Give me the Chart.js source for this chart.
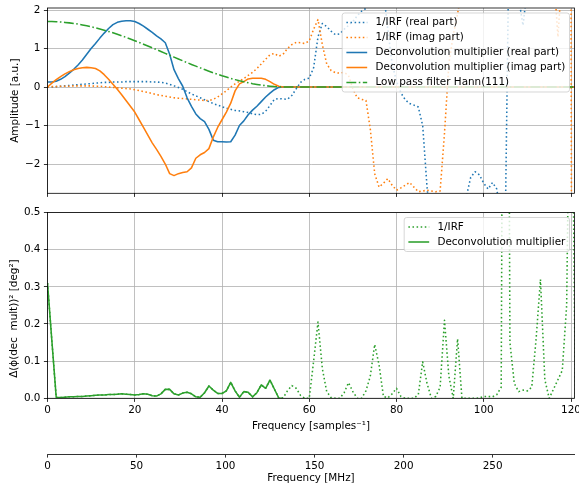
<!DOCTYPE html>
<html><head><meta charset="utf-8">
<script src="https://cdn.jsdelivr.net/npm/chart.js@4/dist/chart.umd.min.js"></script>
<style>
html,body{margin:0;padding:0;background:#fff;}
#wrap{position:relative;width:579px;height:485px;overflow:hidden;background:#fff;}
canvas{position:absolute;left:0;}
#c1{top:0;} #c2{top:200px;}
</style></head><body>
<div id="wrap"><canvas id="c1" width="579" height="200"></canvas><canvas id="c2" width="579" height="285"></canvas></div>
<script>
// ---- categories (frequency samples) ----
const freq = [0,1,2,3,4,5,6,7,8,9,10,11,12,13,14,15,16,17,18,19,20,21,22,23,24,25,26,27,28,29,
30,31,32,33,34,35,36,37,38,39,40,41,42,43,44,45,46,47,48,49,50,51,52,53,54,55,56,57,58,59,
60,61,62,63,64,65,66,67,68,69,70,71,72,73,74,75,76,77,78,79,80,81,82,83,84,85,86,87,88,89,
90,91,92,93,94,95,96,97,98,99,100,101,102,103,104,105,106,107,108,109,110,111,112,113,114,115,116,117,118,119,120,121];

// ---- top panel series ----
const irfReal = [0,0,0.01,0.02,0.03,0.04,0.05,0.06,0.07,0.08,
0.09,0.1,0.11,0.12,0.12,0.13,0.13,0.13,0.14,0.14,
0.14,0.14,0.14,0.14,0.13,0.13,0.12,0.1,0.07,0.03,
-0.01,-0.06,-0.12,-0.18,-0.23,-0.28,-0.33,-0.38,-0.43,-0.47,
-0.51,-0.55,-0.58,-0.61,-0.62,-0.64,-0.66,-0.7,-0.72,-0.71,
-0.63,-0.48,-0.32,-0.3,-0.31,-0.32,-0.22,-0.05,0.12,0.2,
0.23,0.5,1.3,1.65,1.57,1.45,1.36,1.38,1.5,1.6,
1.7,1.85,1.97,2.04,2.4,2.8,2.9,2.5,1.5,0.6,
0.15,-0.15,-0.33,-0.43,-0.47,-0.52,-1.0,-2.6,-3.8,-4.2,
-4.4,-4.3,-4.0,-3.8,-3.5,-3.3,-2.85,-2.35,-2.2,-2.28,
-2.5,-2.65,-2.48,-2.65,-3.5,-3.0,5.5,4.0,2.3,1.6,
2.6,4.0,4.5,4.8,5.0,5.2,5.0,4.8,4.6,4.5,
4.4,4.3];
const irfImag = [0,0.01,0.01,0.02,0.02,0.02,0.03,0.03,0.03,0.03,
0.03,0.02,0.02,0.01,0,-0.01,-0.02,-0.03,-0.04,-0.05,
-0.07,-0.09,-0.12,-0.14,-0.17,-0.2,-0.22,-0.24,-0.26,-0.28,
-0.29,-0.3,-0.31,-0.32,-0.33,-0.34,-0.35,-0.35,-0.32,-0.26,
-0.18,-0.1,0,0.08,0.15,0.22,0.3,0.38,0.48,0.6,
0.72,0.84,0.87,0.8,0.85,1.0,1.1,1.16,1.15,1.13,
1.2,1.5,1.75,1.1,0.6,0.43,0.37,0.36,0.38,0.3,
-0.05,-0.28,-0.32,-0.35,-1.1,-2.25,-2.6,-2.5,-2.38,-2.55,
-2.68,-2.62,-2.55,-2.48,-2.6,-2.72,-2.7,-2.68,-2.7,-2.72,
-2.7,-1.2,0.6,1.35,1.9,2.6,3.5,4.2,4.6,4.8,
5.0,5.0,4.9,4.7,4.5,4.3,4.0,3.8,3.7,3.6,
3.6,3.7,3.8,3.8,3.6,3.3,3.0,1.3,3.0,4.0,
3.0,-60];
const decReal = [0.13,0.13,0.15,0.2,0.27,0.36,0.46,0.57,0.7,0.85,
1.0,1.13,1.27,1.4,1.52,1.62,1.68,1.71,1.72,1.72,
1.7,1.65,1.58,1.5,1.42,1.33,1.25,1.15,0.85,0.45,
0.22,0.02,-0.28,-0.5,-0.7,-0.82,-0.9,-1.1,-1.38,-1.42,
-1.42,-1.43,-1.42,-1.25,-1.0,-0.88,-0.72,-0.6,-0.5,-0.38,
-0.26,-0.16,-0.07,-0.01,0,0,0,0,0,0,
0,0,0,0,0,0,0,0,0,0,
0,0,0,0,0,0,0,0,0,0,
0,0,0,0,0,0,0,0,0,0,
0,0,0,0,0,0,0,0,0,0,
0,0,0,0,0,0,0,0,0,0,
0,0,0,0,0,0,0,0,0,0,
0,0];
const decImag = [0,0.1,0.19,0.27,0.34,0.4,0.45,0.48,0.5,0.51,
0.5,0.48,0.42,0.32,0.2,0.07,-0.06,-0.2,-0.35,-0.5,
-0.65,-0.85,-1.05,-1.25,-1.45,-1.62,-1.8,-2.0,-2.25,-2.3,
-2.25,-2.22,-2.2,-2.1,-1.85,-1.76,-1.7,-1.6,-1.3,-1.05,
-0.85,-0.65,-0.42,-0.1,0.08,0.14,0.21,0.23,0.23,0.23,
0.2,0.14,0.07,0.02,0,0,0,0,0,0,
0,0,0,0,0,0,0,0,0,0,
0,0,0,0,0,0,0,0,0,0,
0,0,0,0,0,0,0,0,0,0,
0,0,0,0,0,0,0,0,0,0,
0,0,0,0,0,0,0,0,0,0,
0,0,0,0,0,0,0,0,0,0,
0,0];
const hann = [1.700,1.699,1.694,1.688,1.678,1.666,1.651,1.633,1.613,1.590,
1.565,1.538,1.508,1.476,1.442,1.407,1.369,1.330,1.289,1.247,
1.203,1.158,1.113,1.066,1.019,0.971,0.923,0.874,0.826,0.777,
0.729,0.681,0.634,0.587,0.542,0.497,0.453,0.411,0.370,0.331,
0.293,0.258,0.224,0.192,0.162,0.135,0.110,0.087,0.067,0.049,
0.034,0.022,0.012,0.006,0.001,0,0,0,0,0,
0,0,0,0,0,0,0,0,0,0,
0,0,0,0,0,0,0,0,0,0,
0,0,0,0,0,0,0,0,0,0,
0,0,0,0,0,0,0,0,0,0,
0,0,0,0,0,0,0,0,0,0,
0,0,0,0,0,0,0,0,0,0,
0,0];

// ---- bottom panel series ----
const phaseIRF = [0.31,0.155,0.002,0.002,0.003,0.004,0.004,0.005,0.005,0.006,
0.007,0.008,0.009,0.009,0.01,0.01,0.011,0.012,0.011,0.01,
0.009,0.01,0.012,0.011,0.007,0.006,0.012,0.024,0.024,0.012,
0.009,0.014,0.016,0.012,0.004,0.003,0.015,0.033,0.022,0.013,
0.013,0.02,0.043,0.02,0.003,0.018,0.016,0.004,0.015,0.036,
0.027,0.049,0.025,0.001,0.001,0.02,0.034,0.027,0.008,0,
0,0.1,0.205,0.08,0.018,0.002,0,0,0.015,0.042,
0.018,0,0,0.02,0.06,0.145,0.09,0.005,0.001,0.012,
0.027,0.005,0,0,0,0.01,0.098,0.04,0,0.005,
0.03,0.21,0.06,0,0.16,0,0,0,0,0.001,
0.005,0.005,0.004,0.01,0.03,3.0,0.15,0.04,0.018,0.022,
0.02,0.03,0.16,0.32,0.05,0,0.025,0.05,0.075,0.25,
1.2,0];
const phaseDec = [0.31,0.155,0.002,0.002,0.003,0.004,0.004,0.005,0.005,0.006,
0.007,0.008,0.009,0.009,0.01,0.01,0.011,0.012,0.011,0.01,
0.009,0.01,0.012,0.011,0.007,0.006,0.012,0.024,0.024,0.012,
0.009,0.014,0.016,0.012,0.004,0.003,0.015,0.033,0.022,0.013,
0.013,0.02,0.043,0.02,0.003,0.018,0.016,0.004,0.015,0.036,
0.027,0.049,0.025,0.001,0];

// ---- tick labels ----
const xTicks = [0,20,40,60,80,100,120];
const yTicksTop = [-2,-1,0,1,2];
const yTicksBottom = [0,0.1,0.2,0.3,0.4,0.5];
const mhzTicks = [0,50,100,150,200,250];

const C0 = '#1f77b4', C1 = '#ff7f0e', C2 = '#2ca02c';
const DOT = [1.55, 2.55];
const DASHDOT = [9.9, 2.5, 1.55, 2.5];
const FS = 10.4;

Chart.defaults.font.family = '"DejaVu Sans", sans-serif';
Chart.defaults.font.size = FS;
Chart.defaults.color = '#000';

function series(vals){ return freq.map((f,i)=>({x:f, y: i < vals.length ? vals[i] : null})); }
function lineDs(label, vals, color, dash, order){
  return {label, data: series(vals), borderColor: color, backgroundColor: color, borderWidth: 1.55,
    borderDash: dash, borderCapStyle: 'butt', borderJoinStyle: 'round', pointRadius: 0, pointHoverRadius: 0,
    fill: false, tension: 0, clip: 0, order, spanGaps: false, xAxisID: 'x', yAxisID: 'y'};
}
function fmtNum(v){ return v < 0 ? '\u2212' + Math.abs(v) : String(v); }
function setTicks(arr){ return s => { s.ticks = arr.map(v => ({value: v})); }; }
const gridOpts = {color: '#b0b0b0', lineWidth: 0.8, tickColor: '#000', tickWidth: 0.8, tickLength: 3.6, drawTicks: true};

function roundRect(ctx, x, y, w, h, r){
  ctx.beginPath();
  ctx.moveTo(x + r, y); ctx.lineTo(x + w - r, y); ctx.arcTo(x + w, y, x + w, y + r, r);
  ctx.lineTo(x + w, y + h - r); ctx.arcTo(x + w, y + h, x + w - r, y + h, r);
  ctx.lineTo(x + r, y + h); ctx.arcTo(x, y + h, x, y + h - r, r);
  ctx.lineTo(x, y + r); ctx.arcTo(x, y, x + r, y, r); ctx.closePath();
}
function boxLegendPlugin(id){
  return {id, afterDraw(chart){
    const ctx = chart.ctx, a = chart.chartArea;
    ctx.save();
    ctx.setLineDash([]);
    ctx.strokeStyle = '#000'; ctx.lineWidth = 0.8;
    ctx.strokeRect(a.left, a.top, a.right - a.left, a.bottom - a.top);
    const items = chart.data.datasets.map(d => ({label: d.label, color: d.borderColor, dash: d.borderDash || []}));
    ctx.font = FS + 'px "DejaVu Sans"';
    const textW = Math.max(...items.map(it => ctx.measureText(it.label).width));
    const pad = 4.2, hl = 20.8, gap = 8.3, rowH = 10.6, sp = 4.4;
    const w = pad + hl + gap + textW + pad;
    const h = pad * 2 + items.length * rowH + (items.length - 1) * sp;
    const right = a.right - 5, left = right - w, top = a.top + 5;
    roundRect(ctx, left, top, w, h, 2.5);
    ctx.fillStyle = 'rgba(255,255,255,0.8)'; ctx.fill();
    ctx.strokeStyle = 'rgba(204,204,204,0.8)'; ctx.lineWidth = 1; ctx.stroke();
    items.forEach((it, i) => {
      const cy = top + pad + rowH / 2 + i * (rowH + sp);
      ctx.beginPath(); ctx.setLineDash(it.dash); ctx.lineCap = 'butt';
      ctx.strokeStyle = it.color; ctx.lineWidth = 1.55;
      ctx.moveTo(left + pad, cy); ctx.lineTo(left + pad + hl, cy); ctx.stroke();
      ctx.setLineDash([]);
      ctx.fillStyle = '#000'; ctx.textBaseline = 'middle'; ctx.textAlign = 'left';
      ctx.fillText(it.label, left + pad + hl + gap, cy);
    });
    ctx.restore();
  }};
}

new Chart(document.getElementById('c1'), {
  type: 'line',
  data: {datasets: [
    lineDs('1/IRF (real part)', irfReal, C0, DOT, 5),
    lineDs('1/IRF (imag part)', irfImag, C1, DOT, 4),
    lineDs('Deconvolution multiplier (real part)', decReal, C0, [], 3),
    lineDs('Deconvolution multiplier (imag part)', decImag, C1, [], 2),
    lineDs('Low pass filter Hann(111)', hann, C2, DASHDOT, 1)
  ]},
  options: {
    responsive: false, animation: false, events: [], devicePixelRatio: 1,
    layout: {padding: {left: 0, right: 4.5, top: 8, bottom: 0}},
    plugins: {legend: {display: false}, tooltip: {enabled: false}},
    scales: {
      x: {type: 'linear', position: 'bottom', min: 0, max: 120.8, afterBuildTicks: setTicks(xTicks),
        ticks: {display: false}, grid: gridOpts, border: {display: false},
        afterFit: s => { s.height = 6.7; s.paddingLeft = 0; s.paddingRight = 0; }},
      y: {type: 'linear', min: -2.76, max: 2.052, afterBuildTicks: setTicks(yTicksTop),
        ticks: {padding: 3.5, callback: v => fmtNum(v)}, grid: gridOpts, border: {display: false},
        title: {display: true, text: 'Amplitude [a.u.]', padding: {top: 9.5, bottom: 0}},
        afterFit: s => { s.width = 47.5; s.paddingTop = 0; s.paddingBottom = 0; }}
    }
  },
  plugins: [boxLegendPlugin('bl1')]
});

new Chart(document.getElementById('c2'), {
  type: 'line',
  data: {datasets: [
    lineDs('1/IRF', phaseIRF, C2, DOT, 2),
    lineDs('Deconvolution multiplier', phaseDec, C2, [], 1)
  ]},
  options: {
    responsive: false, animation: false, events: [], devicePixelRatio: 1,
    layout: {padding: {left: 0, right: 4.5, top: 12.5, bottom: 0}},
    plugins: {legend: {display: false}, tooltip: {enabled: false}},
    scales: {
      x: {type: 'linear', position: 'bottom', weight: 0, min: 0, max: 120.8, afterBuildTicks: setTicks(xTicks),
        ticks: {padding: 2.0, maxRotation: 0, autoSkip: false}, grid: gridOpts, border: {display: false},
        title: {display: true, text: 'Frequency [samples\u207B\u00B9]', padding: {top: 0, bottom: 21}},
        afterFit: s => { s.height = 55.7; s.paddingLeft = 0; s.paddingRight = 0; }},
      x2: {type: 'linear', position: 'bottom', weight: 1, min: 0, max: 296, afterBuildTicks: setTicks(mhzTicks),
        ticks: {padding: 2.8, maxRotation: 0, autoSkip: false},
        grid: {drawOnChartArea: false, tickColor: '#000', tickWidth: 0.8, tickLength: 3.6, drawTicks: true},
        border: {display: true, color: '#000', width: 0.8},
        title: {display: true, text: 'Frequency [MHz]', padding: {top: 0, bottom: 0.2}},
        afterFit: s => { s.height = 31; s.paddingLeft = 0; s.paddingRight = 0; }},
      y: {type: 'linear', min: 0, max: 0.5, afterBuildTicks: setTicks(yTicksBottom),
        ticks: {padding: 3.5, callback: v => v.toFixed(1)}, grid: gridOpts, border: {display: false},
        title: {display: true, text: '\u0394(\u03D5(dec  mult))\u00B2 [deg\u00B2]        ', padding: {top: 8.5, bottom: 0}},
        afterFit: s => { s.width = 47.5; s.paddingTop = 0; s.paddingBottom = 0; }}
    }
  },
  plugins: [boxLegendPlugin('bl2')]
});
</script>
</body></html>
